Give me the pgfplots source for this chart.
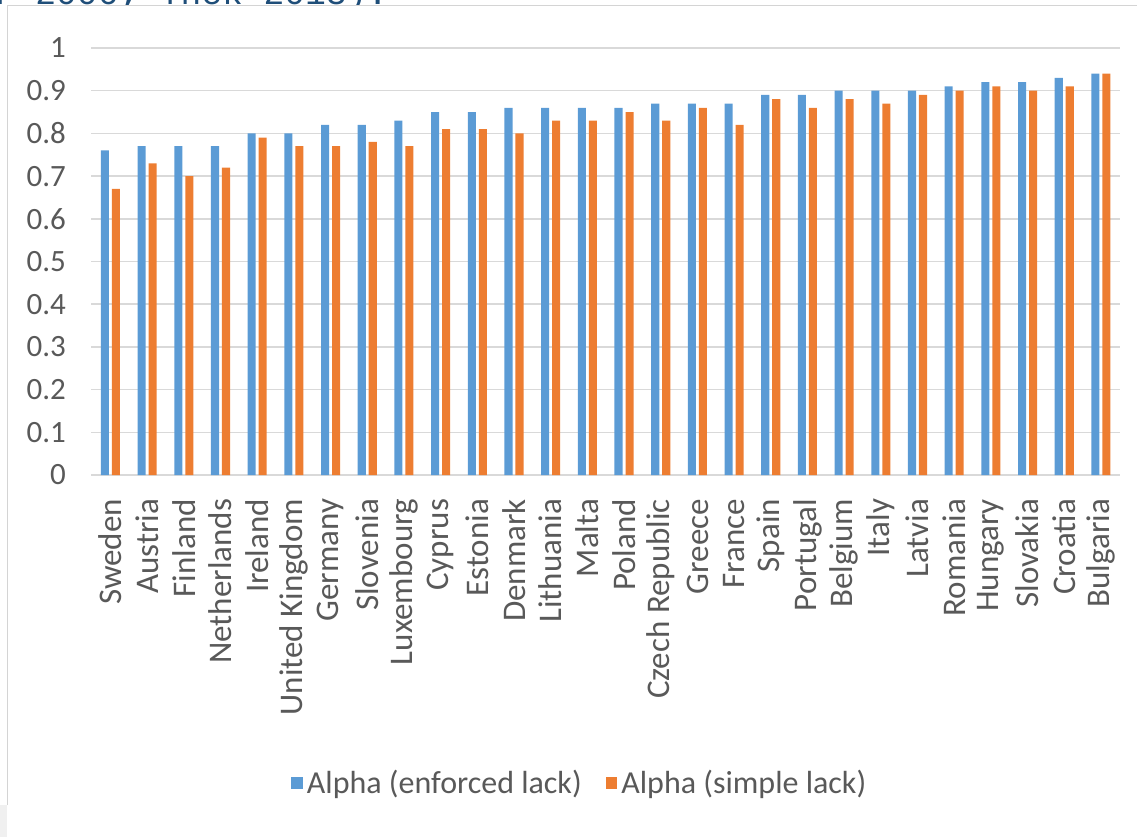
\documentclass[border=0pt]{standalone}
\usepackage{fontspec}
\setmainfont{Carlito}
\newfontfamily\monof{Liberation Mono}
\usepackage{pgfplots}
\pgfplotsset{compat=1.18}
\definecolor{exblue}{HTML}{5B9BD5}
\definecolor{exorange}{HTML}{ED7D31}
\definecolor{gridc}{HTML}{D9D9D9}
\definecolor{txt}{HTML}{595959}
\definecolor{ttl}{HTML}{1F4E79}
\definecolor{frm}{HTML}{D4D4D4}
\pgfplotsset{sqleg/.style={legend image code/.code={\fill[##1] (0bp,-2.9bp) rectangle (5.8bp,2.9bp);}}}
\begin{document}
\begin{tikzpicture}
\begin{axis}[
  at={(0,0)}, anchor=south west,
  width=514.5bp, height=213.5bp, scale only axis,
  xmin=-0.53, xmax=27.52, ymin=0, ymax=1,
  ytick={0,0.1,0.2,0.3,0.4,0.5,0.6,0.7,0.8,0.9,1},
  yticklabels={0,0.1,0.2,0.3,0.4,0.5,0.6,0.7,0.8,0.9,1},
  xtick={0,...,27},
  xticklabels={Sweden,Austria,Finland,Netherlands,Ireland,United Kingdom,Germany,Slovenia,Luxembourg,Cyprus,Estonia,Denmark,Lithuania,Malta,Poland,Czech Republic,Greece,France,Spain,Portugal,Belgium,Italy,Latvia,Romania,Hungary,Slovakia,Croatia,Bulgaria},
  axis line style={draw=none},
  tick style={draw=none},
  major tick length=0pt,
  ymajorgrids,
  grid style={gridc, line width=0.75bp},
  xticklabel style={rotate=90, anchor=east, xshift=-8.5bp, text=txt, font=\fontsize{16.5bp}{19bp}\selectfont},
  yticklabel style={xshift=-9bp, text=txt, font=\fontsize{15.5bp}{18bp}\selectfont},
  /pgf/number format/assume math mode=true,
  legend columns=2,
  legend style={at={(0.476,0)}, anchor=center, yshift=-154bp, draw=none, fill=none,
    text=txt, font=\fontsize{16bp}{19bp}\selectfont,
    /tikz/every even column/.append style={column sep=10bp}},
]
\addplot[ybar, bar width=0.22, bar shift=-0.15, fill=exblue, draw=none, sqleg]
coordinates {
(0,0.76) (1,0.77) (2,0.77) (3,0.77) (4,0.80) (5,0.80) (6,0.82) (7,0.82)
(8,0.83) (9,0.85) (10,0.85) (11,0.86) (12,0.86) (13,0.86) (14,0.86)
(15,0.87) (16,0.87) (17,0.87) (18,0.89) (19,0.89) (20,0.90) (21,0.90)
(22,0.90) (23,0.91) (24,0.92) (25,0.92) (26,0.93) (27,0.94)
};
\addplot[ybar, bar width=0.22, bar shift=0.15, fill=exorange, draw=none, sqleg]
coordinates {
(0,0.67) (1,0.73) (2,0.70) (3,0.72) (4,0.79) (5,0.77) (6,0.77) (7,0.78)
(8,0.77) (9,0.81) (10,0.81) (11,0.80) (12,0.83) (13,0.83) (14,0.85)
(15,0.83) (16,0.86) (17,0.82) (18,0.88) (19,0.86) (20,0.88) (21,0.87)
(22,0.89) (23,0.90) (24,0.91) (25,0.90) (26,0.91) (27,0.94)
};
\legend{Alpha (enforced lack), Alpha (simple lack)}
\end{axis}
\begin{scope}
\clip (-45.5bp,234.9bp) rectangle (523bp,237.5bp);
\node[anchor=base west, inner sep=0pt, text=ttl, font=\monof\fontsize{17.3bp}{20bp}\selectfont] at (-48.8bp,235.25bp) {r 2006; Thek 2013).};
\end{scope}
\draw[frm, line width=0.75bp] (-41.75bp,-165bp) -- (-41.75bp,234.75bp) -- (523bp,234.75bp);
\fill[black!6] (-45.5bp,-181bp) rectangle (-42.2bp,-165bp);
\pgfresetboundingbox
\path[use as bounding box] (-45.5bp,-181bp) rectangle (523bp,237.5bp);
\end{tikzpicture}
\end{document}
